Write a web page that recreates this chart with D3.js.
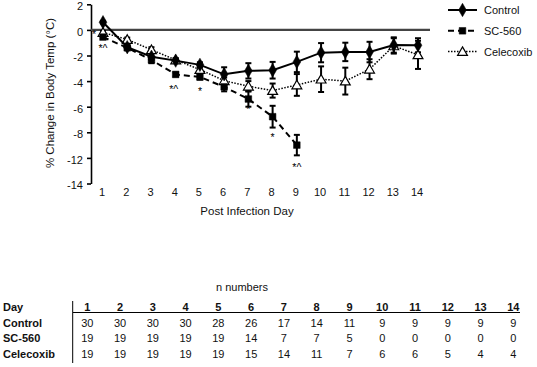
<!DOCTYPE html>
<html>
<head>
<meta charset="utf-8">
<script src="https://cdn.jsdelivr.net/npm/d3@7/dist/d3.min.js"></script>
<style>
  body { margin: 0; background: #fff; }
  svg { font-family: "Liberation Sans", Arial, sans-serif; display: block; }
</style>
</head>
<body>
<svg id="chart" width="537" height="367"></svg>
<script>
// data
const days = [1, 2, 3, 4, 5, 6, 7, 8, 9, 10, 11, 12, 13, 14];
const controlMean = [0.6, -1.35, -2.1, -2.4, -2.73, -3.47, -3.2, -3.15, -2.5, -1.78, -1.72, -1.73, -1.18, -1.2];
const controlErr = [0.1, 0.15, 0.25, 0.15, 0.2, 0.55, 0.6, 0.65, 0.8, 0.75, 0.72, 0.8, 0.6, 0.55];
const scMean = [-0.56, -1.4, -2.35, -3.48, -3.68, -4.45, -5.4, -6.78, -9.0];
const scErr = [0.12, 0.15, 0.25, 0.15, 0.2, 0.35, 0.6, 0.85, 0.8];
const celMean = [-0.2, -0.75, -1.55, -2.35, -3.1, -3.97, -4.4, -4.74, -4.3, -3.85, -4.0, -3.07, -1.25, -1.95];
const celErr = [0.12, 0.15, 0.2, 0.15, 0.25, 0.25, 0.4, 0.55, 0.85, 1.0, 1.05, 0.78, 0.6, 1.1];

const yTickValues = [2, 0, -2, -4, -6, -8, -10, -12];
const yTickLabels = ["2", "0", "-2", "-4", "-6", "-8", "-12", "-14"]; // as printed in the figure

const sigMarks = [
  { day: 1, text: "*", v: -0.2, dx: -9 },
  { day: 1, text: "*^", v: -1.23, dx: 0 },
  { day: 4, text: "*^", v: -4.48, dx: -2 },
  { day: 5, text: "*", v: -4.63, dx: 0 },
  { day: 7, text: "*", v: -6.04, dx: 0 },
  { day: 8, text: "*", v: -8.2, dx: 0 },
  { day: 9, text: "*^", v: -10.55, dx: 0 },
];

const tableDays = days;
const nControl = [30, 30, 30, 30, 28, 26, 17, 14, 11, 9, 9, 9, 9, 9];
const nSC = [19, 19, 19, 19, 19, 14, 7, 7, 5, 0, 0, 0, 0, 0];
const nCel = [19, 19, 19, 19, 19, 15, 14, 11, 7, 6, 6, 5, 4, 4];

const svg = d3.select("#chart");

const x = d3.scaleLinear().domain([1, 14]).range([103, 418]);
const y = d3.scaleLinear().domain([-12, 2]).range([183.5, 4.3]);

// y axis
const yAxis = svg.append("g")
  .attr("transform", "translate(91,0)")
  .call(d3.axisLeft(y).tickValues(yTickValues).tickSize(4).tickSizeOuter(0)
    .tickFormat((d, i) => yTickLabels[i]));
yAxis.select(".domain").attr("stroke", "#000").attr("stroke-width", 1.6);
yAxis.selectAll(".tick line").attr("stroke", "#000").attr("stroke-width", 1.6);
yAxis.selectAll(".tick text").attr("font-size", 11).attr("font-family", "Liberation Sans, Arial, sans-serif")
  .attr("fill", "#111").attr("x", -8).attr("y", 1.8);

// zero line
svg.append("line")
  .attr("x1", 91).attr("x2", 430)
  .attr("y1", y(0)).attr("y2", y(0))
  .attr("stroke", "#444").attr("stroke-width", 2.4);

// x labels (no axis line)
svg.append("g").selectAll("text").data(days).enter().append("text")
  .attr("x", (d) => x(d) - 1)
  .attr("y", 196)
  .attr("text-anchor", "middle")
  .attr("font-size", 11)
  .attr("fill", "#111")
  .text((d) => d);

svg.append("text")
  .attr("x", 247).attr("y", 215)
  .attr("text-anchor", "middle").attr("font-size", 11.5).attr("fill", "#111")
  .text("Post Infection Day");

svg.append("text")
  .attr("transform", "translate(54,93) rotate(-90)")
  .attr("text-anchor", "middle").attr("font-size", 11.5).attr("fill", "#111")
  .text("% Change in Body Temp (°C)");

const series = [
  { name: "Control", mean: controlMean, err: controlErr, dash: null, width: 2, marker: "diamond" },
  { name: "SC-560", mean: scMean, err: scErr, dash: "6,4", width: 2, marker: "square" },
  { name: "Celecoxib", mean: celMean, err: celErr, dash: "1.5,1.5", width: 1.5, marker: "triangle" },
];

const symbols = {
  diamond: d3.symbol().type(d3.symbolDiamond).size(52),
  square: d3.symbol().type(d3.symbolSquare).size(44),
  triangle: d3.symbol().type(d3.symbolTriangle).size(42),
};

const line = d3.line().x((d) => x(d.day)).y((d) => y(d.v));

// error bars first
series.forEach((s) => {
  const pts = s.mean.map((v, i) => ({ day: days[i], v: v, e: s.err[i] }));
  const g = svg.append("g");
  pts.forEach((p) => {
    g.append("line").attr("x1", x(p.day)).attr("x2", x(p.day))
      .attr("y1", y(p.v + p.e)).attr("y2", y(p.v - p.e))
      .attr("stroke", "#000").attr("stroke-width", 2);
    [p.v + p.e, p.v - p.e].forEach((c) => {
      g.append("line").attr("x1", x(p.day) - 3).attr("x2", x(p.day) + 3)
        .attr("y1", y(c)).attr("y2", y(c))
        .attr("stroke", "#000").attr("stroke-width", 2);
    });
  });
});

series.slice().reverse().forEach((s) => {
  const pts = s.mean.map((v, i) => ({ day: days[i], v: v }));
  svg.append("path").datum(pts)
    .attr("d", line)
    .attr("fill", "none")
    .attr("stroke", "#000")
    .attr("stroke-width", s.width)
    .attr("stroke-dasharray", s.dash);
  svg.append("g").selectAll("path").data(pts).enter().append("path")
    .attr("d", symbols[s.marker])
    .attr("transform", (d) => `translate(${x(d.day)},${y(d.v) + (s.marker === "triangle" ? 1 : 0)})`)
    .attr("fill", s.marker === "triangle" ? "#fff" : "#000")
    .attr("stroke", "#000")
    .attr("stroke-width", s.marker === "triangle" ? 1.2 : 0.5);
});

// significance marks
svg.append("g").selectAll("text").data(sigMarks).enter().append("text")
  .attr("x", (d) => x(d.day) + d.dx)
  .attr("y", (d) => y(d.v) + 6)
  .attr("text-anchor", "middle")
  .attr("font-size", 10.5)
  .attr("fill", "#000")
  .text((d) => d.text);

// legend
const legend = svg.append("g");
series.forEach((s, i) => {
  const ly = 10 + i * 20.8;
  legend.append("line").attr("x1", 448).attr("x2", 477).attr("y1", ly).attr("y2", ly)
    .attr("stroke", "#000").attr("stroke-width", s.width).attr("stroke-dasharray", s.dash);
  legend.append("path").attr("d", symbols[s.marker])
    .attr("transform", `translate(462.5,${ly + (s.marker === "triangle" ? 1 : 0)})`)
    .attr("fill", s.marker === "triangle" ? "#fff" : "#000")
    .attr("stroke", "#000").attr("stroke-width", s.marker === "triangle" ? 1.2 : 0.5);
  legend.append("text").attr("x", 484).attr("y", ly + 4)
    .attr("font-size", 11).attr("fill", "#111").text(s.name);
});

// n numbers table
const tx = d3.scaleLinear().domain([1, 14]).range([87.3, 513.3]);
const rowY = [307, 322.5, 338, 353.5];
svg.append("text").attr("x", 242).attr("y", 291).attr("text-anchor", "middle")
  .attr("font-size", 11).attr("fill", "#111").text("n numbers");

const rows = [
  { label: "Day", vals: tableDays, bold: true },
  { label: "Control", vals: nControl, bold: false },
  { label: "SC-560", vals: nSC, bold: false },
  { label: "Celecoxib", vals: nCel, bold: false },
];
rows.forEach((r, i) => {
  svg.append("text").attr("x", 3).attr("y", rowY[i] + 4)
    .attr("font-size", 11).attr("font-weight", "bold").attr("fill", "#111").text(r.label);
  svg.append("g").selectAll("text").data(r.vals).enter().append("text")
    .attr("x", (d, j) => tx(tableDays[j]))
    .attr("y", rowY[i] + 4)
    .attr("text-anchor", "middle")
    .attr("font-size", 11)
    .attr("font-weight", r.bold ? "bold" : "normal")
    .attr("fill", "#111")
    .text((d) => d);
});
svg.append("line").attr("x1", 72.7).attr("x2", 72.7).attr("y1", 301).attr("y2", 363)
  .attr("stroke", "#000").attr("stroke-width", 1);
svg.append("line").attr("x1", 73).attr("x2", 520).attr("y1", 312.5).attr("y2", 312.5)
  .attr("stroke", "#000").attr("stroke-width", 1.2);
</script>
</body>
</html>
